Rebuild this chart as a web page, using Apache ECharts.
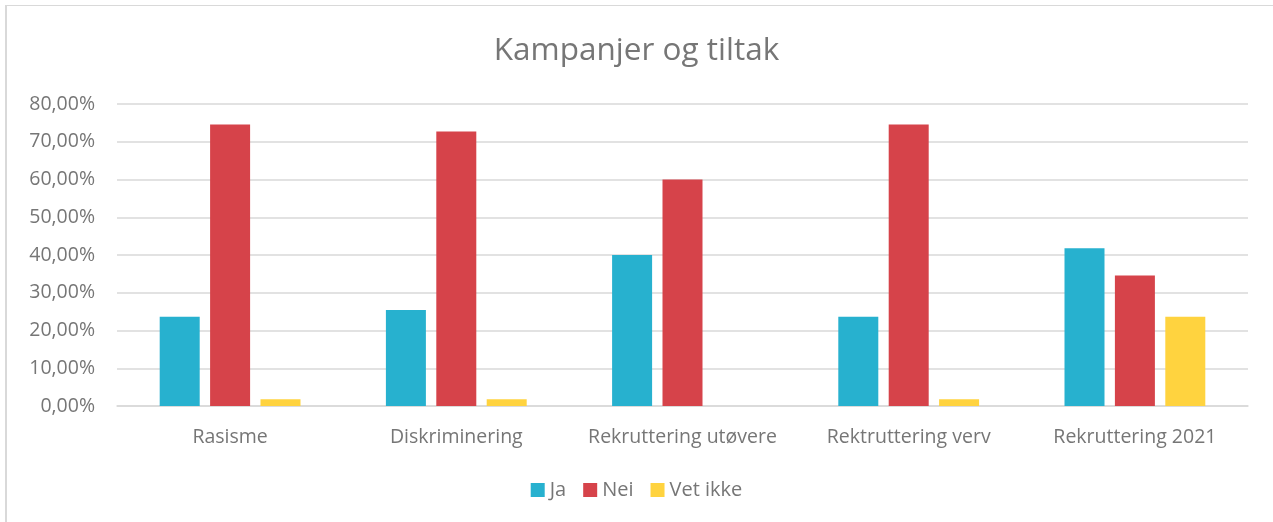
<!DOCTYPE html>
<html>
<head>
<meta charset="utf-8">
<script src="https://cdn.jsdelivr.net/npm/echarts@6/dist/echarts.min.js"></script>
<style>
html,body{margin:0;padding:0;background:#fff;}
#frame{position:absolute;left:5px;top:5px;width:1300px;height:560px;border-left:2px solid #d9d9d9;border-top:1px solid #d9d9d9;box-sizing:border-box;}
#chart{position:absolute;left:0;top:0;width:1273px;height:522px;}
</style>
</head>
<body>
<div id="frame"></div>
<div id="chart"></div>
<script>
const categories = ["Rasisme", "Diskriminering", "Rekruttering utøvere", "Rektruttering verv", "Rekruttering 2021"];
const ja = [23.64, 25.45, 40.00, 23.64, 41.82];
const nei = [74.55, 72.73, 60.00, 74.55, 34.55];
const vetIkke = [1.82, 1.82, 0, 1.82, 23.64];
const yTicks = [0, 10, 20, 30, 40, 50, 60, 70, 80];

const FONT = "'Open Sans', 'Noto Sans', sans-serif";
const TXT = '#767676';
const fmt = v => v.toFixed(2).replace('.', ',') + '%';

const chart = echarts.init(document.getElementById('chart'), null, {renderer: 'canvas'});
const mk = (name, data, color) => ({
  name, type: 'bar', data, barWidth: 40, barGap: '26%',
  itemStyle: {color}, emphasis: {disabled: true}
});
chart.setOption({
  animation: false,
  backgroundColor: 'transparent',
  title: {
    text: 'Kampanjer og tiltak', left: 'center', top: 30,
    textStyle: {fontFamily: FONT, fontSize: 31.5, fontWeight: 'normal', color: TXT}
  },
  legend: {
    bottom: 17, left: 'center', itemWidth: 14, itemHeight: 14, itemGap: 17,
    icon: 'rect',
    textStyle: {fontFamily: FONT, fontSize: 20, color: TXT},
    data: ['Ja', 'Nei', 'Vet ikke']
  },
  grid: {left: 117, right: 25, top: 104, bottom: 116, containLabel: false},
  xAxis: {
    type: 'category', data: categories,
    axisLine: {lineStyle: {color: '#d9d9d9', width: 1.5}},
    axisTick: {show: false},
    axisLabel: {fontFamily: FONT, fontSize: 19.5, color: TXT, margin: 21, interval: 0, hideOverlap: false}
  },
  yAxis: {
    type: 'value', min: yTicks[0], max: yTicks[yTicks.length - 1], interval: 10,
    axisLine: {show: false}, axisTick: {show: false},
    axisLabel: {fontFamily: FONT, fontSize: 19.5, color: TXT, margin: 22, formatter: fmt},
    splitLine: {lineStyle: {color: '#d9d9d9', width: 1.5}}
  },
  series: [
    mk('Ja', ja, '#27B1CF'),
    mk('Nei', nei, '#D6434A'),
    mk('Vet ikke', vetIkke, '#FFD33F')
  ]
});
</script>
</body>
</html>
